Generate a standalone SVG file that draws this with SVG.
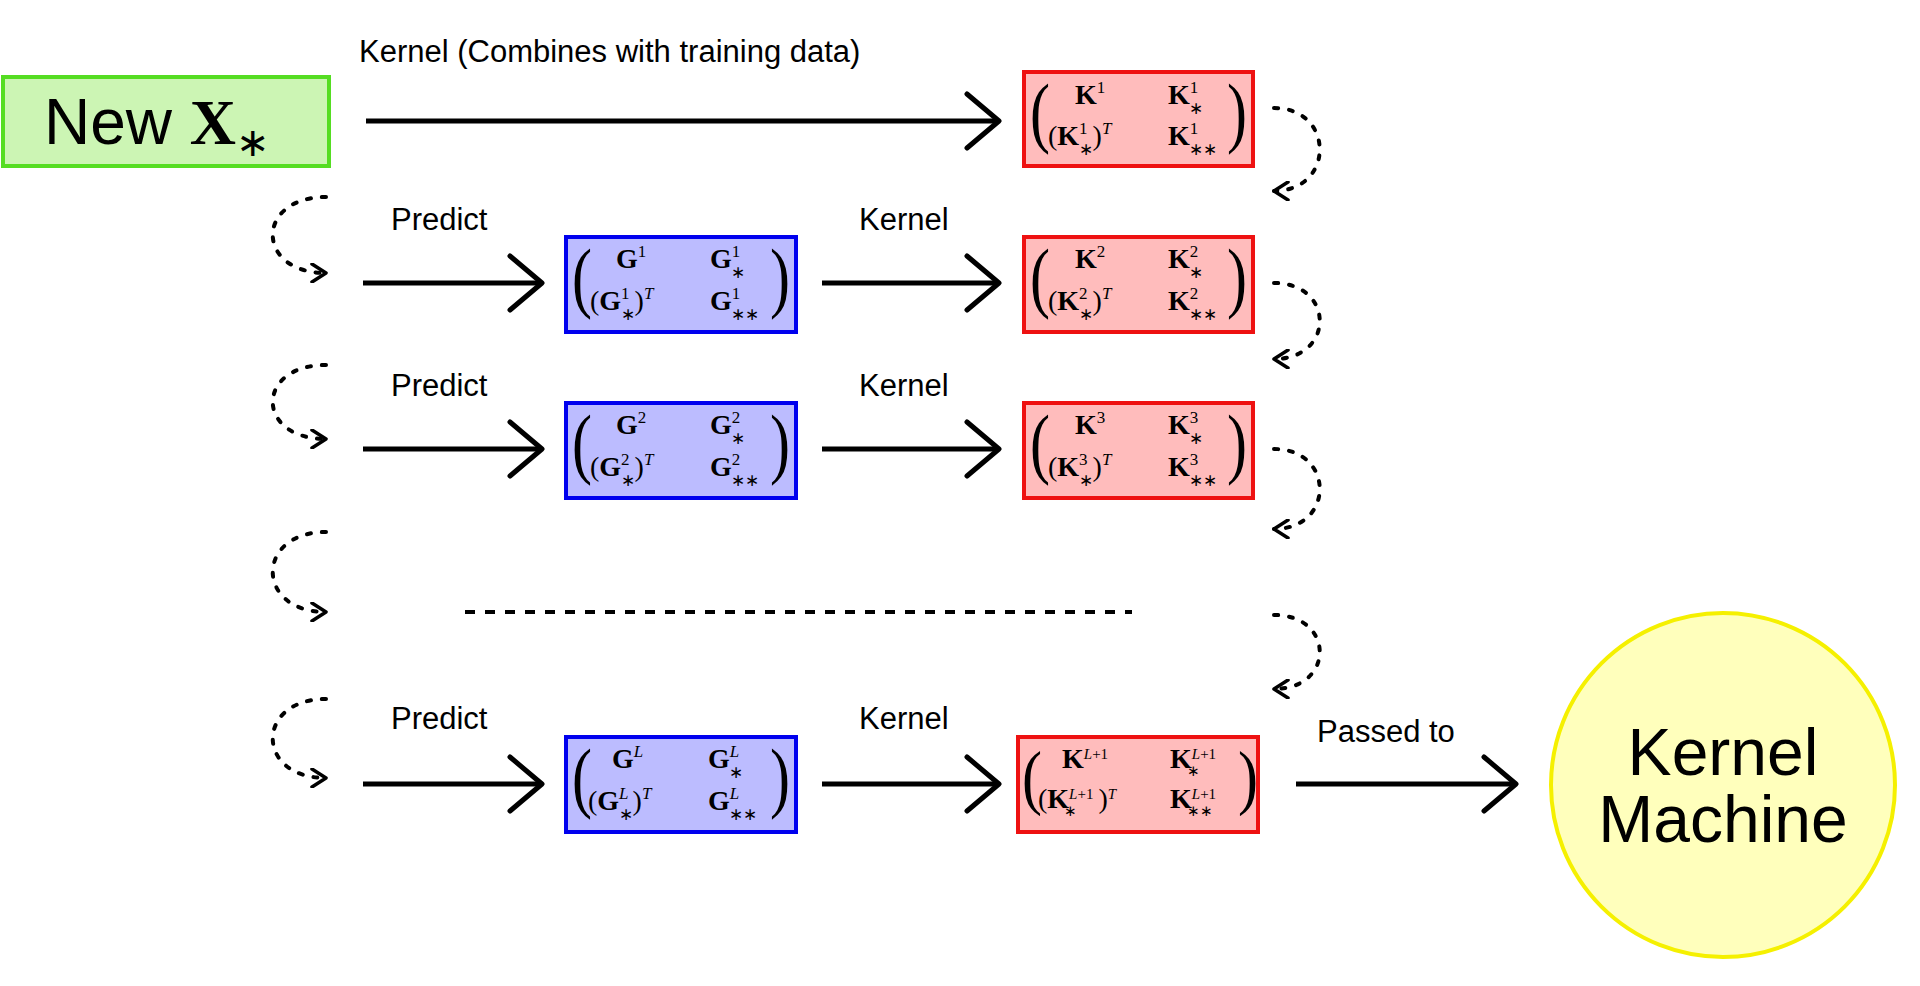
<svg xmlns="http://www.w3.org/2000/svg" width="1920" height="986" viewBox="0 0 1920 986">
<defs>
<marker id="ah" viewBox="0 0 20 20" refX="18" refY="10" markerWidth="20" markerHeight="20" markerUnits="userSpaceOnUse" orient="auto"><path d="M4,1 L18,10 L4,19" fill="none" stroke="#000" stroke-width="3.5" stroke-linecap="round" stroke-linejoin="round"/></marker>
<marker id="big" viewBox="0 0 40 60" refX="36" refY="30" markerWidth="40" markerHeight="60" markerUnits="userSpaceOnUse" orient="auto"><path d="M4,3 L36,30 L4,57" fill="none" stroke="#000" stroke-width="5" stroke-linecap="round" stroke-linejoin="round"/></marker>
</defs>
<style>
.lbl{font-family:"Liberation Sans",Arial,sans-serif;font-size:31px;fill:#000}
.m{font-family:"Liberation Serif","Times New Roman",serif;font-size:28px;fill:#000}
.b{font-weight:bold}
.p{font-family:"Liberation Serif",serif;font-size:60px;fill:#000;font-weight:100}
.red{fill:#ffbcbc;stroke:#ee1111;stroke-width:4}
.blue{fill:#bcbcff;stroke:#0000ee;stroke-width:4}
.arr{stroke:#000;stroke-width:5;fill:none;marker-end:url(#big)}
.dot{stroke:#000;stroke-width:4;fill:none;stroke-dasharray:4 11;stroke-linecap:round;marker-end:url(#ah)}
</style>
<rect width="1920" height="986" fill="#fff"/>
<g id="newx"><rect x="3" y="77" width="326" height="89" fill="#ccf5b4" stroke="#55dd22" stroke-width="4"/>
<text x="44" y="144" font-family="Liberation Sans,Arial,sans-serif" font-size="64">New <tspan font-family="Liberation Serif,serif" font-weight="bold">X</tspan><tspan font-family="Liberation Serif,serif" font-size="40" dy="12">∗</tspan></text></g>
<g id="k1"><rect class="red" x="1024" y="72" width="229" height="94"/>
<text class="p" transform="translate(1030,138) scale(1,1.3)">(</text><text class="p" transform="translate(1227,138) scale(1,1.3)">)</text>
<text class="m" x="1075" y="104"><tspan class="b">K</tspan><tspan font-size="17" dy="-11">1</tspan></text>
<text class="m" x="1168" y="104"><tspan class="b">K</tspan><tspan font-size="17" dy="-11">1</tspan><tspan font-size="17" dx="-9" dy="21">∗</tspan></text>
<text class="m" x="1048" y="145">(<tspan class="b">K</tspan><tspan font-size="17" dy="-11">1</tspan><tspan font-size="17" dx="-9" dy="21">∗</tspan><tspan dy="-10">)</tspan><tspan font-size="17" font-style="italic" dy="-11">T</tspan></text>
<text class="m" x="1168" y="145"><tspan class="b">K</tspan><tspan font-size="17" dy="-11">1</tspan><tspan font-size="17" dx="-9" dy="21">∗∗</tspan></text></g>
<g id="g1"><rect class="blue" x="566" y="237" width="230" height="95"/>
<text class="p" transform="translate(572,303) scale(1,1.3)">(</text><text class="p" transform="translate(770,303) scale(1,1.3)">)</text>
<text class="m" x="616" y="268"><tspan class="b">G</tspan><tspan font-size="17" dy="-11">1</tspan></text>
<text class="m" x="710" y="268"><tspan class="b">G</tspan><tspan font-size="17" dy="-11">1</tspan><tspan font-size="17" dx="-9" dy="21">∗</tspan></text>
<text class="m" x="590" y="310">(<tspan class="b">G</tspan><tspan font-size="17" dy="-11">1</tspan><tspan font-size="17" dx="-9" dy="21">∗</tspan><tspan dy="-10">)</tspan><tspan font-size="17" font-style="italic" dy="-11">T</tspan></text>
<text class="m" x="710" y="310"><tspan class="b">G</tspan><tspan font-size="17" dy="-11">1</tspan><tspan font-size="17" dx="-9" dy="21">∗∗</tspan></text></g>
<g id="k2"><rect class="red" x="1024" y="237" width="229" height="95"/>
<text class="p" transform="translate(1030,303) scale(1,1.3)">(</text><text class="p" transform="translate(1227,303) scale(1,1.3)">)</text>
<text class="m" x="1075" y="268"><tspan class="b">K</tspan><tspan font-size="17" dy="-11">2</tspan></text>
<text class="m" x="1168" y="268"><tspan class="b">K</tspan><tspan font-size="17" dy="-11">2</tspan><tspan font-size="17" dx="-9" dy="21">∗</tspan></text>
<text class="m" x="1048" y="310">(<tspan class="b">K</tspan><tspan font-size="17" dy="-11">2</tspan><tspan font-size="17" dx="-9" dy="21">∗</tspan><tspan dy="-10">)</tspan><tspan font-size="17" font-style="italic" dy="-11">T</tspan></text>
<text class="m" x="1168" y="310"><tspan class="b">K</tspan><tspan font-size="17" dy="-11">2</tspan><tspan font-size="17" dx="-9" dy="21">∗∗</tspan></text></g>
<g id="g2"><rect class="blue" x="566" y="403" width="230" height="95"/>
<text class="p" transform="translate(572,469) scale(1,1.3)">(</text><text class="p" transform="translate(770,469) scale(1,1.3)">)</text>
<text class="m" x="616" y="434"><tspan class="b">G</tspan><tspan font-size="17" dy="-11">2</tspan></text>
<text class="m" x="710" y="434"><tspan class="b">G</tspan><tspan font-size="17" dy="-11">2</tspan><tspan font-size="17" dx="-9" dy="21">∗</tspan></text>
<text class="m" x="590" y="476">(<tspan class="b">G</tspan><tspan font-size="17" dy="-11">2</tspan><tspan font-size="17" dx="-9" dy="21">∗</tspan><tspan dy="-10">)</tspan><tspan font-size="17" font-style="italic" dy="-11">T</tspan></text>
<text class="m" x="710" y="476"><tspan class="b">G</tspan><tspan font-size="17" dy="-11">2</tspan><tspan font-size="17" dx="-9" dy="21">∗∗</tspan></text></g>
<g id="k3"><rect class="red" x="1024" y="403" width="229" height="95"/>
<text class="p" transform="translate(1030,469) scale(1,1.3)">(</text><text class="p" transform="translate(1227,469) scale(1,1.3)">)</text>
<text class="m" x="1075" y="434"><tspan class="b">K</tspan><tspan font-size="17" dy="-11">3</tspan></text>
<text class="m" x="1168" y="434"><tspan class="b">K</tspan><tspan font-size="17" dy="-11">3</tspan><tspan font-size="17" dx="-9" dy="21">∗</tspan></text>
<text class="m" x="1048" y="476">(<tspan class="b">K</tspan><tspan font-size="17" dy="-11">3</tspan><tspan font-size="17" dx="-9" dy="21">∗</tspan><tspan dy="-10">)</tspan><tspan font-size="17" font-style="italic" dy="-11">T</tspan></text>
<text class="m" x="1168" y="476"><tspan class="b">K</tspan><tspan font-size="17" dy="-11">3</tspan><tspan font-size="17" dx="-9" dy="21">∗∗</tspan></text></g>
<g id="gL"><rect class="blue" x="566" y="737" width="230" height="95"/>
<text class="p" transform="translate(572,803) scale(1,1.3)">(</text><text class="p" transform="translate(770,803) scale(1,1.3)">)</text>
<text class="m" x="612" y="768"><tspan class="b">G</tspan><tspan font-size="17" font-style="italic" dy="-11">L</tspan></text>
<text class="m" x="708" y="768"><tspan class="b">G</tspan><tspan font-size="17" font-style="italic" dy="-11">L</tspan><tspan font-size="17" dx="-10" dy="21">∗</tspan></text>
<text class="m" x="588" y="810">(<tspan class="b">G</tspan><tspan font-size="17" font-style="italic" dy="-11">L</tspan><tspan font-size="17" dx="-10" dy="21">∗</tspan><tspan dy="-10">)</tspan><tspan font-size="17" font-style="italic" dy="-11">T</tspan></text>
<text class="m" x="708" y="810"><tspan class="b">G</tspan><tspan font-size="17" font-style="italic" dy="-11">L</tspan><tspan font-size="17" dx="-10" dy="21">∗∗</tspan></text></g>
<g id="kL"><rect class="red" x="1018" y="737" width="240" height="95"/>
<text class="p" transform="translate(1022,801) scale(1,1.2)" font-size="54">(</text><text class="p" transform="translate(1238,801) scale(1,1.2)" font-size="54">)</text>
<text class="m" font-size="23" x="1062" y="768"><tspan class="b">K</tspan><tspan font-size="15" font-style="italic" dy="-9">L</tspan><tspan font-size="15">+1</tspan></text>
<text class="m" font-size="23" x="1170" y="768"><tspan class="b">K</tspan><tspan font-size="15" font-style="italic" dy="-9">L</tspan><tspan font-size="15">+1</tspan><tspan font-size="15" dx="-29" dy="17">∗</tspan></text>
<text class="m" font-size="23" x="1038" y="808">(<tspan class="b">K</tspan><tspan font-size="15" font-style="italic" dy="-9">L</tspan><tspan font-size="15">+1</tspan><tspan font-size="15" dx="-29" dy="17">∗</tspan><tspan dx="21" dy="-8">)</tspan><tspan font-size="15" font-style="italic" dy="-9">T</tspan></text>
<text class="m" font-size="23" x="1170" y="808"><tspan class="b">K</tspan><tspan font-size="15" font-style="italic" dy="-9">L</tspan><tspan font-size="15">+1</tspan><tspan font-size="15" dx="-29" dy="17">∗∗</tspan></text></g>
<g id="km"><circle cx="1723" cy="785" r="172" fill="#ffffbc" stroke="#f5f000" stroke-width="4"/>
<text x="1723" y="775" text-anchor="middle" font-family="Liberation Sans,Arial,sans-serif" font-size="66">Kernel</text>
<text x="1723" y="842" text-anchor="middle" font-family="Liberation Sans,Arial,sans-serif" font-size="66">Machine</text></g>
<g id="connectors">
<path class="arr" d="M366,121 H999"/>
<path class="arr" d="M363,283 H542"/><path class="arr" d="M822,283 H999"/>
<path class="arr" d="M363,449 H542"/><path class="arr" d="M822,449 H999"/>
<path class="arr" d="M363,784 H542"/><path class="arr" d="M822,784 H999"/>
<path class="arr" d="M1296,784 H1516"/>
<path d="M465,612 H1132" stroke="#000" stroke-width="4" stroke-dasharray="10 10"/>
<path class="dot" d="M1274,108 C1335,108 1335,191 1274,191"/>
<path class="dot" d="M1274,283 C1335,283 1335,359 1274,359"/>
<path class="dot" d="M1274,449 C1335,449 1335,529 1274,529"/>
<path class="dot" d="M1274,615 C1335,615 1335,689 1274,689"/>
<path class="dot" d="M326,197 C255,197 255,273 326,273"/>
<path class="dot" d="M326,365 C255,365 255,439 326,439"/>
<path class="dot" d="M326,532 C255,532 255,612 326,612"/>
<path class="dot" d="M326,699 C255,699 255,778 326,778"/>
</g>
<g id="labels">
<text class="lbl" x="359" y="62">Kernel (Combines with training data)</text>
<text class="lbl" x="391" y="230">Predict</text><text class="lbl" x="859" y="230">Kernel</text>
<text class="lbl" x="391" y="396">Predict</text><text class="lbl" x="859" y="396">Kernel</text>
<text class="lbl" x="391" y="729">Predict</text><text class="lbl" x="859" y="729">Kernel</text>
<text class="lbl" x="1317" y="742">Passed to</text>
</g>
</svg>
